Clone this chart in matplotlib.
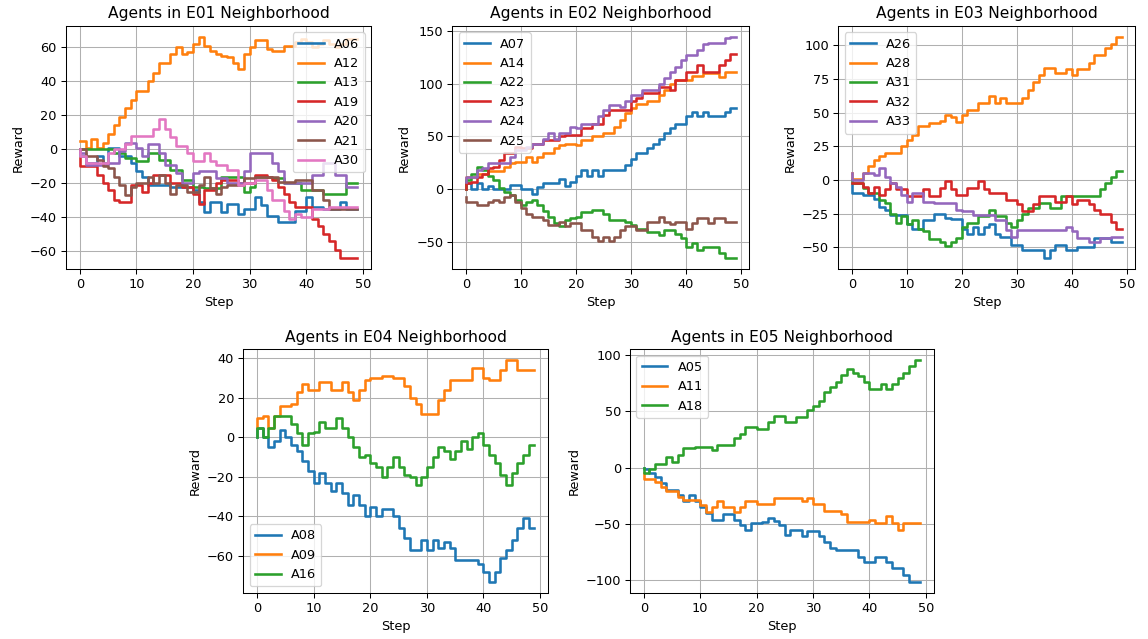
import numpy as np
import matplotlib
matplotlib.use("Agg")
from matplotlib import pyplot as plt
from matplotlib.ticker import MultipleLocator

steps = np.arange(50)

# E01 neighborhood
A06 = [0, -4, -8, -8, -4, -8, 1, 1, -4, -4,
       -8, -13, -16, -21, -21, -21, -21, -22, -22, -22,
       -22, -24, -31, -37, -31, -31, -37, -32, -32, -38,
       -35, -35, -28, -33, -39, -39, -43, -43, -43, -36,
       -36, -28, -34, -34, -35, -35, -35, -31, -35, -35]
A12 = [5, 5, 1, 6, 1, 4, 9, 14, 19, 24,
       29, 34, 34, 40, 45, 51, 51, 56, 60, 56,
       57, 62, 66, 61, 58, 56, 55, 54, 51, 47,
       56, 60, 64, 64, 59, 58, 58, 61, 61, 63,
       65, 63, 60, 62, 64, 62, 60, 62, 65, 65]
A13 = [0, 0, 0, 0, 0, 0, 0, -2, -2, -5,
       -5, -7, -7, -2, -2, -6, -6, -12, -12, -18,
       -18, -22, -22, -23, -23, -23, -16, -16, -16, -16,
       -25, -22, -16, -16, -16, -17, -17, -20, -20, -20,
       -24, -24, -24, -24, -26, -26, -26, -26, -20, -20]
A19 = [-5, -10, -10, -10, -15, -20, -24, -30, -31, -31,
       -21, -21, -25, -20, -15, -15, -15, -20, -20, -22,
       -22, -26, -32, -24, -24, -20, -18, -18, -18, -20,
       -20, -20, -15, -15, -16, -18, -22, -26, -31, -34,
       -34, -34, -41, -45, -50, -54, -59, -64, -64, -64]
A20 = [0, -2, -9, -9, -9, -9, -8, -8, -1, 4,
       4, 1, -4, 3, 3, -2, -9, -9, -14, -20,
       -20, -14, -13, -13, -13, -17, -17, -20, -20, -20,
       -13, -2, -2, -2, -2, -8, -13, -20, -20, -20,
       -20, -20, -15, -15, -8, -8, -15, -15, -22, -22]
A21 = [0, 0, -4, -4, -6, -10, -11, -16, -21, -27,
       -22, -20, -20, -16, -20, -15, -20, -26, -21, -21,
       -25, -25, -21, -16, -23, -26, -22, -21, -21, -21,
       -17, -17, -16, -16, -16, -16, -19, -19, -19, -18,
       -18, -18, -24, -24, -30, -35, -35, -35, -35, -35]
A30 = [0, -4, -8, -8, -8, -8, -2, 0, 0, 3,
       8, 8, 8, 8, 12, 18, 12, 7, 2, 2,
       -2, -7, -7, -2, -7, -9, -9, -12, -12, -21,
       -20, -20, -18, -18, -24, -30, -30, -36, -41, -38,
       -40, -40, -35, -35, -35, -34, -34, -34, -34, -34]

# E02 neighborhood
A07 = [0, 6, 0, 6, 0, 3, 0, 0, 0, 4,
       4, 0, 0, -4, 2, 6, 6, 6, 10, 3,
       7, 13, 18, 13, 18, 13, 18, 18, 18, 18,
       23, 29, 34, 34, 39, 43, 48, 53, 58, 62,
       62, 69, 73, 69, 73, 69, 69, 69, 73, 77]
A14 = [6, 12, 12, 15, 15, 17, 17, 17, 21, 25,
       26, 26, 31, 26, 31, 34, 34, 39, 42, 43,
       43, 42, 47, 47, 50, 50, 53, 53, 59, 66,
       72, 77, 81, 81, 84, 84, 89, 94, 100, 103,
       103, 103, 107, 107, 110, 110, 110, 106, 111, 111]
A22 = [0, 9, 15, 21, 18, 13, 9, 1, -2, -5,
       -10, -15, -12, -10, -15, -20, -26, -32, -35, -29,
       -27, -26, -21, -21, -19, -19, -23, -29, -29, -29,
       -31, -34, -37, -37, -40, -40, -43, -38, -38, -42,
       -46, -54, -51, -57, -54, -54, -54, -60, -65, -65]
A23 = [0, 6, 7, 12, 15, 20, 21, 28, 34, 34,
       40, 39, 39, 43, 43, 47, 47, 47, 50, 51,
       51, 51, 58, 58, 62, 62, 70, 75, 75, 75,
       75, 84, 86, 91, 91, 91, 97, 97, 94, 103,
       103, 111, 111, 118, 111, 111, 111, 118, 122, 128]
A24 = [7, 12, 12, 18, 20, 25, 25, 25, 25, 31,
       37, 37, 40, 43, 43, 48, 53, 48, 53, 53,
       59, 58, 62, 62, 62, 69, 75, 80, 80, 78,
       84, 89, 89, 94, 94, 94, 100, 105, 111, 116,
       122, 127, 127, 132, 137, 138, 138, 138, 143, 144]
A25 = [-7, -12, -12, -15, -15, -12, -10, -12, -7, -5,
       -12, -18, -23, -26, -26, -29, -34, -34, -31, -35,
       -32, -32, -38, -38, -45, -49, -45, -49, -45, -38,
       -35, -35, -38, -38, -31, -31, -26, -31, -33, -31,
       -31, -37, -32, -27, -27, -32, -27, -27, -31, -31]

# E03 neighborhood
A26 = [-3, -10, -10, -11, -11, -14, -20, -22, -26, -26,
       -26, -33, -36, -36, -30, -30, -25, -25, -28, -29,
       -29, -36, -40, -35, -40, -35, -33, -40, -42, -42,
       -48, -48, -52, -52, -52, -52, -58, -52, -48, -48,
       -52, -52, -50, -50, -50, -43, -43, -43, -46, -46]
A28 = [5, 1, 1, 5, 10, 15, 18, 20, 20, 20,
       25, 30, 33, 40, 40, 42, 42, 44, 48, 47,
       43, 48, 52, 52, 57, 57, 62, 57, 61, 57,
       57, 57, 61, 67, 73, 78, 83, 83, 79, 79,
       82, 78, 82, 82, 87, 93, 93, 98, 101, 106]
A31 = [0, -2, -2, -6, -10, -10, -15, -17, -25, -32,
       -27, -33, -30, -36, -38, -44, -44, -46, -49, -46,
       -43, -35, -32, -32, -27, -27, -22, -27, -27, -32,
       -35, -30, -25, -21, -21, -17, -17, -21, -21, -12,
       -12, -12, -12, -12, -12, -12, -7, -2, 2, 7]
A32 = [-2, -2, -2, -5, -10, -5, -11, -7, -2, -7,
       -7, -12, -12, -12, -7, -12, -12, -6, -1, -7,
       -11, -11, -6, -6, -1, -7, -10, -10, -10, -15,
       -15, -18, -23, -23, -18, -12, -12, -12, -16, -16,
       -12, -18, -15, -15, -18, -22, -25, -25, -31, -36]
A33 = [5, 0, 0, 5, 5, 4, 9, 2, -2, -5,
       -11, -16, -10, -10, -16, -16, -17, -17, -17, -17,
       -22, -23, -23, -26, -26, -26, -26, -30, -30, -37,
       -42, -37, -37, -37, -37, -37, -37, -37, -37, -37,
       -35, -38, -43, -43, -46, -46, -43, -43, -42, -42]

# E04 neighborhood
A08 = [0, 5, 0, -5, -2, 4, 0, -4, -7, -12,
       -17, -23, -18, -23, -27, -23, -28, -34, -29, -34,
       -40, -35, -40, -36, -36, -40, -46, -51, -57, -57,
       -52, -57, -52, -56, -53, -56, -62, -62, -62, -62,
       -64, -68, -73, -68, -61, -57, -52, -46, -41, -46]
A09 = [5, 10, 11, 5, 11, 16, 16, 17, 23, 27,
       24, 24, 28, 28, 24, 24, 28, 23, 19, 24,
       29, 30, 30, 31, 31, 30, 30, 26, 20, 17,
       12, 12, 12, 19, 24, 29, 29, 29, 29, 35,
       35, 30, 29, 29, 34, 39, 39, 34, 34, 34]
A16 = [0, 5, 0, 5, 11, 11, 11, 7, 2, -4,
       2, 3, 8, 5, 5, 10, 5, 0, -5, -10,
       -9, -13, -15, -20, -15, -10, -15, -19, -20, -24,
       -20, -15, -10, -5, -7, -11, -7, -2, -6, 0,
       2, -4, -9, -13, -19, -24, -18, -13, -9, -4]

# E05 neighborhood
A05 = [0, -1, -5, -8, -14, -20, -20, -24, -30, -24,
       -30, -35, -40, -46, -46, -41, -41, -46, -51, -55,
       -49, -49, -48, -45, -47, -51, -60, -55, -55, -61,
       -56, -56, -61, -66, -71, -73, -73, -73, -73, -79,
       -84, -84, -79, -79, -84, -89, -89, -95, -101, -101]
A11 = [-5, -10, -10, -13, -17, -21, -21, -26, -29, -29,
       -29, -33, -39, -35, -30, -35, -35, -39, -35, -30,
       -30, -32, -32, -32, -27, -27, -27, -27, -27, -30,
       -27, -32, -32, -38, -38, -38, -41, -48, -48, -48,
       -48, -46, -49, -49, -43, -49, -55, -49, -49, -49]
A18 = [0, -5, -1, 3, 3, 9, 5, 11, 17, 17,
       18, 18, 18, 16, 20, 20, 20, 26, 30, 36,
       36, 34, 34, 40, 46, 46, 40, 40, 45, 45,
       51, 55, 59, 67, 71, 76, 82, 87, 84, 81,
       76, 70, 70, 74, 70, 74, 79, 84, 90, 95]

neighborhoods = [
    ("E01", ["A06", "A12", "A13", "A19", "A20", "A21", "A30"],
     [A06, A12, A13, A19, A20, A21, A30]),
    ("E02", ["A07", "A14", "A22", "A23", "A24", "A25"],
     [A07, A14, A22, A23, A24, A25]),
    ("E03", ["A26", "A28", "A31", "A32", "A33"],
     [A26, A28, A31, A32, A33]),
    ("E04", ["A08", "A09", "A16"], [A08, A09, A16]),
    ("E05", ["A05", "A11", "A18"], [A05, A11, A18]),
]

# axes boxes [left, bottom, width, height] in figure fractions
boxes = [
    [0.0575, 0.5786, 0.2657, 0.3808],
    [0.3940, 0.5786, 0.2585, 0.3808],
    [0.7302, 0.5786, 0.2585, 0.3808],
    [0.2119, 0.0725, 0.2657, 0.3808],
    [0.5488, 0.0725, 0.2648, 0.3808],
]
legend_locs = ["upper right", "upper left", "upper left", "lower left", "upper left"]
ytick_steps = [None, None, None, None, 50]

DPI = 93
fig = plt.figure(figsize=(1148 / DPI, 639 / DPI), dpi=DPI)

for (env, names, series), box, loc, ystep in zip(neighborhoods, boxes, legend_locs, ytick_steps):
    ax = fig.add_axes(box)
    for name, vals in zip(names, series):
        ax.step(steps, vals, where="pre", linewidth=2, label=name)
    ax.set_title(f"Agents in {env} Neighborhood")
    ax.set_xlabel("Step")
    ax.set_ylabel("Reward")
    if ystep:
        ax.yaxis.set_major_locator(MultipleLocator(ystep))
    ax.grid(True)
    ax.legend(loc=loc)

fig.savefig("out.png", dpi=DPI)
